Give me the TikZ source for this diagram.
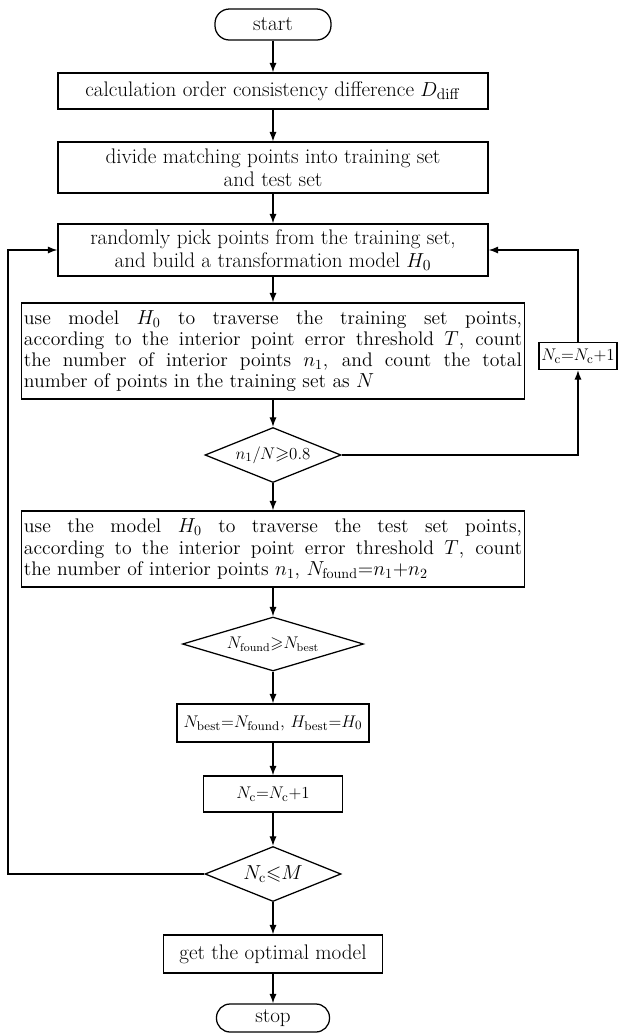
\documentclass[tikz,border=0pt]{standalone}
\usepackage{amssymb}
\usetikzlibrary{positioning,arrows,arrows.meta,calc,shapes}
\tikzset{
    on grid,
    node distance=3cm,
    auto,
    terminal/.style = {
        draw,
        shape=rectangle,
        rounded corners=0.36cm,
        minimum height=0.775cm,
        minimum width=2.9cm
    },
    process/.style = {
        draw,
        shape=rectangle,
        minimum height=0.9cm,
        align=center,
        inner sep=2pt
    },
    paragraph/.style = {
        process,
        text width=12.45cm,
        align=justify,
        font=\fontsize{14pt}{15pt}\selectfont
    },
    formula/.style = {
        process,
        font=\fontsize{12.5pt}{14pt}\selectfont
    },
    decision/.style = {
        draw,
        shape=diamond,
        aspect=2.5,
        inner sep=0pt,
        minimum width=3.4cm,
        minimum height=1.375cm,
        font=\fontsize{13pt}{14pt}\selectfont
    },
    >={Latex[length=2.4mm,width=1.8mm]},
}

\begin{document}
\begin{tikzpicture}[line width=0.9pt, font=\fontsize{15pt}{16pt}\selectfont]
            \useasboundingbox (-6.825,0) rectangle (8.625,-25.85);

            \node[terminal] (start) at (0,-0.6125) {start};
            \node[process, minimum width=10.75cm] (calcdiff) at (0,-2.275) {calculation order consistency difference $D_{\mathrm{diff}}$};
            \node[process, minimum width=10.75cm, minimum height=1.275cm] (divide) at (0,-4.19) {divide matching points into training set\\and test set};
            \node[process, minimum width=10.75cm, minimum height=1.3cm] (pick) at (0,-6.25) {randomly pick points from the training set,\\and build a transformation model $H_0$};
            \node[paragraph, minimum height=2.4cm] (trainset) at (0,-8.775) {use model $H_0$ to traverse the training set points,\linebreak according to the interior point error threshold $T$, count\linebreak the number of interior points $n_1$, and count the total\linebreak number of points in the training set as $N$};
            \node[decision] (ratio) at (0,-11.375) {$n_1/N{\geqslant}0.8$};
            \node[formula, minimum width=1.95cm, minimum height=0.675cm, inner sep=0.5pt] (recount) at (7.625,-8.9) {$N_{\mathrm{c}}{=}N_{\mathrm{c}}{+}1$};
            \node[paragraph, minimum height=1.9cm] (testset) at (0,-13.725) {use the model $H_0$ to traverse the test set points,\linebreak according to the interior point error threshold $T$, count\linebreak the number of interior points $n_1$, $N_{\mathrm{found}}{=}n_1{+}n_2$};
            \node[decision, aspect=3.35, minimum width=4.525cm, minimum height=1.35cm, font=\fontsize{12pt}{14pt}\selectfont] (compare) at (0,-16.1) {$N_{\mathrm{found}}{\geqslant}N_{\mathrm{best}}$};
            \node[formula, minimum width=4.8cm, minimum height=0.95cm] (update) at (0,-18.075) {$N_{\mathrm{best}}{=}N_{\mathrm{found}}$, $H_{\mathrm{best}}{=}H_0$};
            \node[formula, minimum width=3.475cm] (count) at (0,-19.85) {$N_{\mathrm{c}}{=}N_{\mathrm{c}}{+}1$};
            \node[decision, font=\fontsize{14pt}{15pt}\selectfont] (limit) at (0,-21.85) {$N_{\mathrm{c}}{\leqslant}M$};
            \node[process, minimum width=5.475cm, minimum height=0.95cm] (optimal) at (0,-23.85) {get the optimal model};
            \node[terminal, minimum width=2.825cm, minimum height=0.7cm, rounded corners=0.34cm] (stop) at (0,-25.45) {stop};
            \coordinate (back) at (-6.625,-21.85);

            \path[draw, ->] (start) -- (calcdiff);
            \path[draw, ->] (calcdiff) -- (divide);
            \path[draw, ->] (divide) -- (pick);
            \path[draw, ->] (pick) -- (trainset);
            \path[draw, ->] (trainset) -- (ratio);
            \path[draw, ->] (ratio) -- (testset);
            \path[draw, ->] (testset) -- (compare);
            \path[draw, ->] (compare) -- (update);
            \path[draw, ->] (update) -- (count);
            \path[draw, ->] (count) -- (limit);
            \path[draw, ->] (limit) -- (optimal);
            \path[draw, ->] (optimal) -- (stop);

            \path[draw, ->] (ratio.east) -| (recount.south);
            \path[draw, ->] (recount.north) |- (pick.east);
            \path[draw, ->] (limit.west) -- (back) |- (pick.west);

        \end{tikzpicture}
\end{document}
